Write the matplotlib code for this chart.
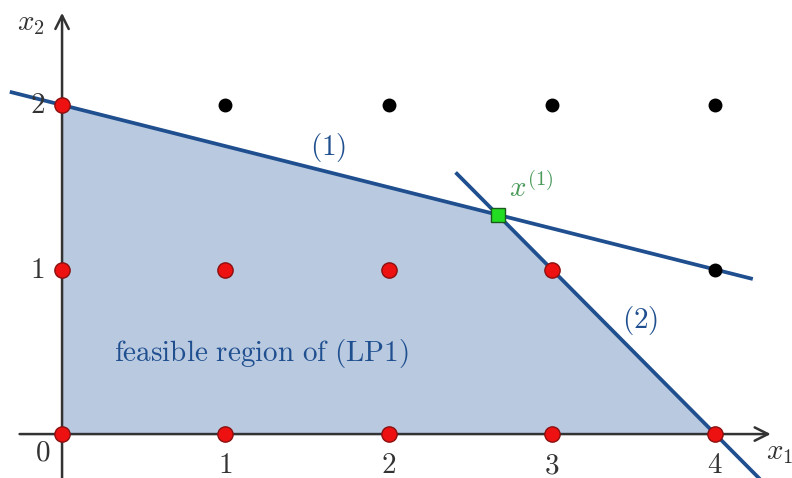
import matplotlib
matplotlib.use("Agg")
import matplotlib.pyplot as plt
import numpy as np

plt.rcParams['mathtext.fontset'] = 'cm'

# Data
feasible_pts_x = [0, 1, 2, 3, 4, 0, 1, 2, 3, 0]
feasible_pts_y = [0, 0, 0, 0, 0, 1, 1, 1, 1, 2]
infeasible_pts_x = [1, 2, 3, 4, 4]
infeasible_pts_y = [2, 2, 2, 2, 1]
region_x = [0, 0, 8/3, 4]
region_y = [0, 2, 4/3, 0]
line1_x = [-0.32, 4.23]          # x1 + 4 x2 = 8
line1_y = [(8 - v) / 4 for v in line1_x]
line2_x = [2.41, 4.28]           # x1 + x2 = 4
line2_y = [4 - v for v in line2_x]
opt_x, opt_y = 8/3, 4/3
xtick_vals = [1, 2, 3, 4]
ytick_vals = [1, 2]

BLUE = '#1f4f8f'
FILL = '#b9c9e0'
AX = '#333333'

fig = plt.figure(figsize=(7.92, 4.78), dpi=100)
ax = fig.add_axes([0, 0, 1, 1])
ax.set_xlim(-0.38, 4.47)
ax.set_ylim(-0.267, 2.638)
ax.axis('off')

ax.fill(region_x, region_y, color=FILL, zorder=1, lw=0)

# axes with arrows
ax.annotate('', xy=(4.34, 0), xytext=(-0.26, 0),
            arrowprops=dict(arrowstyle='->', lw=1.8, color=AX, mutation_scale=24,
                            shrinkA=0, shrinkB=0), zorder=2)
ax.annotate('', xy=(0, 2.56), xytext=(0, -0.27),
            arrowprops=dict(arrowstyle='->', lw=1.8, color=AX, mutation_scale=24,
                            shrinkA=0, shrinkB=0), zorder=2)

ax.plot(line1_x, line1_y, color=BLUE, lw=2.7, zorder=3, solid_capstyle='butt')
ax.plot(line2_x, line2_y, color=BLUE, lw=2.7, zorder=3, solid_capstyle='butt')

ax.plot(feasible_pts_x, feasible_pts_y, 'o', color='#ee1111', mec='#8a1010',
        mew=1.0, ms=11, zorder=5, ls='none')
ax.plot(infeasible_pts_x, infeasible_pts_y, 'o', color='black', ms=9, zorder=5, ls='none')
ax.plot([opt_x], [opt_y], 's', color='#22dd22', mec='#1a5a1a', mew=1.0, ms=10.5, zorder=6)

fs = 21
ax.text(opt_x + 0.07, opt_y + 0.07, r'$x^{(1)}$', color='#4a9a5a', fontsize=fs,
        ha='left', va='bottom')
ax.text(1.63, 1.74, r'$\mathrm{(1)}$', color=BLUE, fontsize=fs, ha='center', va='center')
ax.text(3.54, 0.69, r'$\mathrm{(2)}$', color=BLUE, fontsize=fs, ha='center', va='center')
ax.text(0.32, 0.49, r'$\mathrm{feasible\ region\ of\ (LP1)}$', color=BLUE, fontsize=fs,
        ha='left', va='center')

for v in xtick_vals:
    ax.text(v, -0.19, r'$\mathrm{%d}$' % v, color=AX, fontsize=fs, ha='center', va='center')
ax.text(-0.12, -0.11, r'$\mathrm{0}$', color=AX, fontsize=fs, ha='center', va='center')
for v in ytick_vals:
    ax.text(-0.15, v, r'$\mathrm{%d}$' % v, color=AX, fontsize=fs, ha='center', va='center')

ax.text(4.31, -0.11, r'$x_1$', color=AX, fontsize=fs, ha='left', va='center')
ax.text(-0.19, 2.5, r'$x_2$', color=AX, fontsize=fs, ha='center', va='center')

fig.savefig('out.png', dpi=100)
